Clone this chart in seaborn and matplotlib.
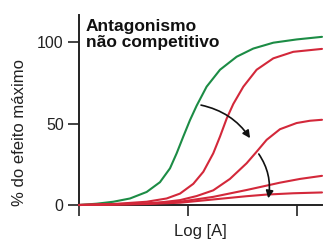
import matplotlib
matplotlib.use("Agg")
import matplotlib.pyplot as plt
import seaborn as sns
import pandas as pd

# ---- data (x in arbitrary Log[A] units) ----
agonist_x = [0.00, 0.162, 0.315, 0.468, 0.621, 0.743, 0.835, 0.896, 0.957,
             1.018, 1.080, 1.171, 1.294, 1.447, 1.599, 1.783, 1.997, 2.23]
agonist_y = [0.0, 0.8, 2.0, 4.0, 8.0, 14.0, 22.5, 31.7, 42.0,
             52.0, 61.0, 72.6, 83.0, 91.0, 96.0, 99.6, 101.6, 103.2]

antag1_x = [0.00, 0.315, 0.621, 0.804, 0.927, 1.049, 1.141, 1.232, 1.294,
            1.355, 1.416, 1.508, 1.630, 1.783, 1.966, 2.23]
antag1_y = [0.0, 0.6, 2.0, 4.0, 7.0, 13.0, 20.4, 31.7, 42.0,
            53.0, 62.0, 72.6, 83.0, 90.0, 94.0, 95.8]

antag2_x = [0.00, 0.621, 0.774, 0.927, 1.080, 1.232, 1.385, 1.538, 1.630,
            1.722, 1.844, 1.997, 2.119, 2.23]
antag2_y = [0.0, 1.0, 1.8, 3.0, 5.5, 9.0, 16.0, 25.6, 32.7,
            40.0, 46.5, 50.3, 51.7, 52.3]

antag3_x = [0.00, 0.315, 0.621, 0.927, 1.232, 1.538, 1.722, 1.844, 2.028, 2.23]
antag3_y = [0.0, 0.3, 0.8, 2.0, 5.0, 9.2, 11.9, 13.7, 16.0, 17.9]

antag4_x = [0.00, 0.315, 0.621, 0.927, 1.232, 1.538, 1.722, 1.966, 2.23]
antag4_y = [0.0, 0.2, 0.6, 1.4, 3.4, 5.4, 6.4, 7.2, 7.7]

y_ticks = [0, 50, 100]
x_ticks = [0, 1, 2]
title_text = "Antagonismo\nnão competitivo"
y_label = "% do efeito máximo"
x_label = "Log [A]"

green = "#1c8c45"
red = "#d3283a"

sns.set_style("ticks")
plt.rcParams["font.family"] = ["Liberation Sans", "DejaVu Sans"]

fig = plt.figure(figsize=(3.24, 2.42), dpi=100)
ax = fig.add_axes([79 / 324, 37 / 242, 243 / 324, 190 / 242])

series = [(agonist_x, agonist_y, green),
          (antag1_x, antag1_y, red),
          (antag2_x, antag2_y, red),
          (antag3_x, antag3_y, red),
          (antag4_x, antag4_y, red)]
for xs, ys, col in series:
    df = pd.DataFrame({"x": xs, "y": ys})
    sns.lineplot(data=df, x="x", y="y", ax=ax, color=col, lw=1.5,
                 estimator=None, sort=False, clip_on=False, zorder=3,
                 solid_joinstyle="round", solid_capstyle="round")

ax.set_xlim(0, 2.23)
ax.set_ylim(0, 116.6)
ax.set_yticks(y_ticks)
ax.set_xticks(x_ticks)
ax.set_xticklabels([])
ax.tick_params(axis="both", length=8, width=1.2, color="#222222",
               labelsize=11.5, pad=3, labelcolor="#222222")
for sp in ("top", "right"):
    ax.spines[sp].set_visible(False)
for sp in ("left", "bottom"):
    ax.spines[sp].set_linewidth(1.4)
    ax.spines[sp].set_color("#222222")

ax.set_xlabel(x_label, fontsize=12, labelpad=3, color="#222222")
ax.set_ylabel(y_label, fontsize=12, color="#222222")
ax.yaxis.set_label_coords(-0.215, 0.38)

ax.text(0.029, 0.978, title_text, transform=ax.transAxes, ha="left", va="top",
        fontsize=12.5, fontweight="bold", color="#111111", linespacing=1.1)

arrow_kw = dict(arrowstyle="-|>", color="#111111", lw=1.2, mutation_scale=11,
                shrinkA=0, shrinkB=0)
ax.annotate("", xy=(1.57, 41.0), xytext=(1.12, 61.3),
            arrowprops=dict(connectionstyle="arc3,rad=-0.2", **arrow_kw))
ax.annotate("", xy=(1.737, 4.1), xytext=(1.65, 31.3),
            arrowprops=dict(connectionstyle="arc3,rad=-0.2", **arrow_kw))

fig.savefig("out.png", dpi=100)
